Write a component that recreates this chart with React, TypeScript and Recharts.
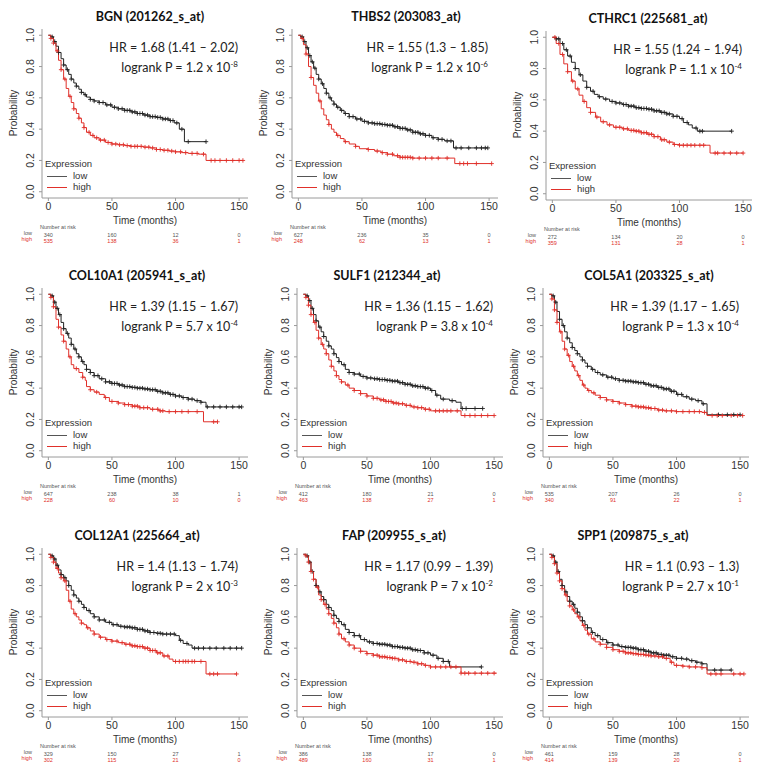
import { ComposedChart, Line, Scatter, XAxis, YAxis } from 'recharts'

type Pt = [number, number]

// ---- BGN ----
const bgnLow: Pt[] = [[0,1],[2,0.99],[4,0.96],[6,0.93],[8,0.89],[10,0.85],[12,0.81],[14,0.78],[16,0.75],[18,0.72],[20,0.695],[22,0.675],[24,0.655],[26,0.635],[28,0.62],[30,0.605],[33,0.59],[36,0.58],[40,0.57],[45,0.555],[50,0.54],[55,0.53],[60,0.52],[65,0.51],[70,0.5],[75,0.49],[80,0.48],[85,0.475],[90,0.465],[95,0.455],[99,0.44],[103,0.4],[107,0.32],[124,0.32]]
const bgnHigh: Pt[] = [[0,1],[2,0.98],[4,0.95],[6,0.9],[8,0.84],[10,0.78],[12,0.72],[14,0.66],[16,0.61],[18,0.57],[20,0.53],[22,0.5],[24,0.47],[26,0.44],[28,0.41],[30,0.38],[33,0.36],[36,0.345],[40,0.33],[45,0.315],[50,0.305],[55,0.3],[60,0.295],[65,0.29],[70,0.29],[75,0.285],[80,0.28],[85,0.27],[90,0.265],[95,0.26],[100,0.255],[105,0.25],[110,0.245],[118,0.24],[124,0.2],[153,0.2]]
const bgnLowCens = [3,5,8,12,15,18,22,26,29,33,36,40,43,46,49,52,55,58,60,62,64,66,68,70,72,74,76,78,80,82,84,86,88,90,92,94,96,98,101,105,110,124]
const bgnHighCens = [2,4,7,10,13,17,20,24,28,32,35,38,41,44,47,50,53,56,59,62,65,68,70,73,76,79,82,85,88,91,94,97,100,104,108,113,117,122,128,131,135,140,145,150,153]

// ---- THBS2 ----
const thbs2Low: Pt[] = [[0,1],[2,0.99],[4,0.96],[6,0.92],[8,0.87],[10,0.83],[12,0.79],[14,0.75],[16,0.72],[18,0.69],[20,0.66],[22,0.63],[24,0.6],[26,0.58],[28,0.56],[30,0.54],[33,0.52],[36,0.5],[40,0.48],[45,0.465],[50,0.45],[55,0.44],[60,0.435],[65,0.43],[70,0.425],[75,0.415],[80,0.405],[85,0.395],[90,0.38],[95,0.37],[100,0.36],[105,0.345],[110,0.335],[115,0.325],[122,0.28],[149,0.28]]
const thbs2High: Pt[] = [[0,1],[2,0.98],[4,0.94],[6,0.88],[8,0.8],[10,0.73],[12,0.68],[14,0.63],[16,0.58],[18,0.53],[20,0.49],[22,0.46],[24,0.43],[26,0.4],[28,0.38],[30,0.36],[33,0.34],[36,0.32],[40,0.305],[45,0.29],[48,0.275],[55,0.27],[60,0.26],[65,0.25],[70,0.24],[75,0.23],[80,0.22],[90,0.215],[100,0.215],[110,0.215],[123,0.18],[152,0.18]]
const thbs2LowCens = [3,5,7,9,11,13,16,19,22,25,28,31,34,37,40,43,46,49,52,55,58,60,62,64,66,68,70,72,74,76,78,80,82,84,86,88,90,92,94,96,98,100,103,106,110,113,117,120,124,128,134,140,144,147,149]
const thbs2HighCens = [3,6,10,17,24,31,37,45,55,62,66,70,74,78,80,82,84,86,88,90,95,100,105,110,117,127,130,133,140,152]

// ---- CTHRC1 ----
const cthrc1Low: Pt[] = [[0,1],[3,0.99],[6,0.96],[9,0.92],[12,0.88],[15,0.84],[18,0.8],[21,0.76],[24,0.72],[27,0.68],[30,0.655],[33,0.635],[36,0.62],[40,0.605],[45,0.59],[50,0.58],[55,0.57],[60,0.56],[65,0.55],[70,0.545],[75,0.54],[80,0.53],[85,0.52],[90,0.51],[95,0.495],[100,0.48],[103,0.455],[107,0.44],[110,0.42],[114,0.4],[141,0.4]]
const cthrc1High: Pt[] = [[0,1],[3,0.96],[6,0.89],[9,0.83],[12,0.78],[15,0.72],[18,0.67],[21,0.63],[24,0.59],[27,0.55],[30,0.52],[34,0.49],[38,0.46],[43,0.44],[48,0.425],[55,0.415],[60,0.405],[65,0.4],[70,0.39],[75,0.38],[80,0.365],[85,0.345],[90,0.33],[95,0.315],[100,0.31],[110,0.31],[124,0.26],[150,0.26]]
const cthrc1LowCens = [3,5,8,11,14,18,22,27,32,37,42,47,50,53,56,58,60,62,64,66,68,70,72,74,76,78,80,82,84,86,88,90,92,95,98,102,106,113,116,118,141]
const cthrc1HighCens = [2,5,8,12,16,20,25,30,35,40,45,50,53,56,59,62,64,66,68,70,72,74,76,78,80,83,86,88,92,96,100,103,106,109,112,116,119,128,130,135,140,145,150]

// ---- COL10A1 ----
const col10Low: Pt[] = [[0,1],[2,0.99],[4,0.95],[6,0.91],[8,0.87],[10,0.82],[12,0.78],[14,0.75],[16,0.72],[18,0.68],[20,0.65],[22,0.62],[24,0.6],[26,0.57],[28,0.55],[30,0.52],[33,0.5],[36,0.48],[40,0.46],[45,0.44],[50,0.43],[55,0.42],[60,0.41],[65,0.405],[70,0.4],[75,0.395],[80,0.39],[85,0.38],[90,0.37],[95,0.36],[100,0.35],[105,0.34],[110,0.33],[115,0.32],[120,0.31],[124,0.28],[152,0.28]]
const col10High: Pt[] = [[0,1],[2,0.98],[4,0.92],[6,0.84],[8,0.79],[10,0.74],[12,0.7],[14,0.65],[16,0.6],[18,0.55],[20,0.525],[24,0.5],[27,0.47],[29,0.45],[30,0.41],[33,0.39],[36,0.375],[40,0.36],[44,0.34],[48,0.315],[55,0.305],[60,0.295],[66,0.285],[72,0.275],[80,0.265],[87,0.255],[92,0.25],[122,0.185],[133,0.185]]
const col10LowCens = [3,5,7,9,12,15,18,21,24,27,30,33,36,39,42,45,48,50,52,54,56,58,60,62,64,66,68,70,72,74,76,78,80,82,84,86,88,90,92,94,96,98,100,103,106,110,113,117,120,125,130,135,140,145,150,152]
const col10HighCens = [2,4,8,12,17,22,27,33,38,45,50,55,60,63,66,68,70,72,75,78,82,86,88,90,95,100,105,110,117,130,133]

// ---- SULF1 ----
const sulf1Low: Pt[] = [[0,1],[2,0.99],[4,0.96],[6,0.91],[8,0.87],[10,0.83],[12,0.79],[14,0.76],[16,0.73],[18,0.7],[20,0.67],[22,0.65],[24,0.62],[26,0.595],[28,0.57],[30,0.55],[33,0.52],[36,0.5],[40,0.49],[45,0.475],[50,0.465],[55,0.46],[60,0.455],[65,0.45],[70,0.445],[75,0.435],[80,0.425],[85,0.415],[90,0.41],[95,0.4],[100,0.385],[104,0.355],[108,0.33],[115,0.32],[120,0.31],[124,0.27],[141,0.27]]
const sulf1High: Pt[] = [[0,1],[2,0.98],[4,0.93],[6,0.87],[8,0.82],[10,0.77],[12,0.72],[14,0.68],[16,0.65],[18,0.62],[20,0.58],[22,0.54],[24,0.51],[26,0.48],[28,0.455],[30,0.44],[33,0.42],[36,0.4],[40,0.385],[45,0.365],[50,0.35],[55,0.335],[60,0.325],[65,0.315],[70,0.305],[75,0.3],[80,0.29],[85,0.28],[90,0.275],[95,0.265],[100,0.255],[110,0.255],[124,0.225],[150,0.225]]
const sulf1LowCens = [3,5,7,10,13,16,20,24,28,32,36,40,44,47,50,53,56,58,60,62,64,66,68,70,72,74,76,78,80,82,84,86,88,90,92,94,96,98,101,105,110,117,125,128,135,141]
const sulf1HighCens = [2,4,6,9,12,15,18,22,26,30,35,40,45,50,55,58,61,63,65,67,69,71,73,75,78,81,84,87,90,93,96,99,104,107,110,113,116,121,127,131,135,140,145,150]

// ---- COL5A1 ----
const col5Low: Pt[] = [[0,1],[2,0.99],[4,0.95],[6,0.89],[8,0.84],[10,0.8],[12,0.76],[14,0.72],[16,0.69],[18,0.66],[20,0.64],[22,0.62],[24,0.6],[26,0.58],[28,0.56],[30,0.54],[33,0.52],[36,0.5],[40,0.485],[45,0.47],[50,0.46],[55,0.45],[60,0.445],[65,0.44],[70,0.435],[75,0.425],[80,0.415],[85,0.405],[90,0.395],[95,0.38],[100,0.36],[105,0.345],[110,0.33],[115,0.32],[120,0.3],[124,0.23],[150,0.23]]
const col5High: Pt[] = [[0,1],[2,0.97],[4,0.9],[6,0.82],[8,0.76],[10,0.7],[12,0.65],[14,0.61],[16,0.57],[18,0.54],[20,0.51],[22,0.48],[24,0.45],[26,0.42],[28,0.4],[30,0.385],[33,0.37],[36,0.355],[40,0.34],[45,0.325],[50,0.315],[55,0.305],[60,0.295],[65,0.285],[70,0.28],[75,0.275],[80,0.27],[85,0.26],[90,0.255],[100,0.25],[110,0.25],[120,0.245],[124,0.225],[152,0.225]]
const col5LowCens = [3,5,8,11,14,18,22,26,30,34,38,42,46,49,52,55,58,60,62,64,66,68,70,72,74,76,78,80,82,84,86,88,90,92,94,96,98,101,104,108,112,117,121,133,140,145,150]
const col5HighCens = [2,4,6,9,12,15,19,23,27,31,35,40,45,50,55,60,65,68,70,72,74,76,78,80,83,86,89,92,96,100,105,110,114,118,122,128,132,136,143,148,152]

// ---- COL12A1 ----
const col12Low: Pt[] = [[0,1],[2,0.99],[4,0.97],[6,0.93],[8,0.9],[10,0.87],[12,0.85],[14,0.83],[16,0.8],[18,0.77],[20,0.74],[22,0.72],[24,0.7],[26,0.68],[28,0.66],[30,0.64],[33,0.62],[36,0.6],[40,0.58],[45,0.565],[50,0.55],[55,0.54],[60,0.535],[65,0.53],[70,0.52],[75,0.51],[80,0.5],[85,0.495],[90,0.49],[95,0.49],[100,0.48],[103,0.45],[106,0.43],[110,0.42],[113,0.4],[152,0.4]]
const col12High: Pt[] = [[0,1],[2,0.98],[4,0.95],[6,0.91],[8,0.88],[10,0.85],[12,0.83],[14,0.77],[16,0.7],[18,0.65],[20,0.62],[22,0.6],[24,0.58],[26,0.56],[28,0.55],[30,0.53],[33,0.51],[36,0.49],[40,0.47],[45,0.455],[50,0.445],[55,0.435],[60,0.425],[65,0.415],[70,0.41],[75,0.4],[80,0.385],[85,0.37],[90,0.35],[95,0.33],[98,0.315],[110,0.315],[120,0.315],[124,0.235],[148,0.235]]
const col12LowCens = [3,5,7,10,13,16,20,24,28,32,36,40,44,48,51,54,57,60,62,64,66,68,70,72,74,76,78,80,83,86,88,90,93,96,99,104,109,115,118,122,127,132,138,143,148,152]
const col12HighCens = [2,4,7,10,13,17,21,26,31,36,41,46,50,54,58,61,64,66,68,70,72,74,76,78,80,82,84,86,88,91,94,100,103,106,108,110,113,115,120,127,130,133,148]

// ---- FAP ----
const fapLow: Pt[] = [[0,1],[2,0.99],[4,0.95],[6,0.89],[8,0.84],[10,0.8],[12,0.76],[14,0.73],[16,0.71],[18,0.68],[20,0.66],[22,0.64],[24,0.61],[26,0.59],[28,0.57],[30,0.55],[33,0.52],[36,0.5],[40,0.48],[45,0.455],[50,0.44],[55,0.43],[60,0.425],[65,0.42],[70,0.41],[75,0.405],[80,0.4],[85,0.39],[90,0.385],[95,0.37],[100,0.355],[105,0.335],[110,0.315],[115,0.28],[140,0.28]]
const fapHigh: Pt[] = [[0,1],[2,0.99],[4,0.95],[6,0.89],[8,0.84],[10,0.79],[12,0.74],[14,0.71],[16,0.68],[18,0.65],[20,0.62],[22,0.59],[24,0.56],[26,0.53],[28,0.49],[30,0.46],[33,0.44],[36,0.42],[40,0.4],[45,0.38],[50,0.365],[55,0.355],[60,0.345],[65,0.34],[70,0.335],[75,0.325],[80,0.315],[85,0.31],[90,0.3],[95,0.29],[100,0.28],[110,0.28],[120,0.28],[124,0.24],[152,0.24]]
const fapLowCens = [3,5,7,10,13,16,20,24,28,32,36,40,44,48,52,55,58,60,62,64,66,68,70,72,74,76,78,80,82,84,86,88,90,92,95,98,102,106,110,114,140]
const fapHighCens = [2,4,6,8,11,14,17,20,24,28,32,36,40,45,50,55,58,60,62,64,66,68,70,72,75,78,81,84,87,90,93,96,100,104,108,112,116,120,124,127,130,135,140,145,150]

// ---- SPP1 ----
const spp1Low: Pt[] = [[0,1],[2,0.99],[4,0.95],[6,0.89],[8,0.84],[10,0.8],[12,0.76],[14,0.73],[16,0.7],[18,0.68],[20,0.655],[22,0.63],[24,0.6],[26,0.575],[28,0.55],[30,0.53],[33,0.5],[36,0.48],[40,0.455],[45,0.435],[50,0.42],[55,0.41],[60,0.405],[65,0.4],[70,0.39],[75,0.38],[80,0.37],[85,0.36],[90,0.355],[95,0.345],[100,0.335],[105,0.33],[110,0.32],[115,0.31],[120,0.3],[124,0.26],[143,0.26]]
const spp1High: Pt[] = [[0,1],[2,0.98],[4,0.94],[6,0.88],[8,0.83],[10,0.78],[12,0.74],[14,0.7],[16,0.67],[18,0.645],[20,0.62],[22,0.6],[24,0.575],[26,0.545],[28,0.515],[30,0.49],[33,0.46],[36,0.44],[40,0.425],[45,0.405],[50,0.39],[55,0.38],[60,0.37],[65,0.365],[70,0.36],[75,0.355],[80,0.35],[85,0.345],[90,0.335],[95,0.31],[98,0.29],[105,0.285],[110,0.28],[120,0.275],[124,0.235],[153,0.235]]
const spp1LowCens = [3,5,7,10,13,16,19,22,26,30,34,38,42,46,50,54,57,60,62,64,66,68,70,72,74,76,78,80,82,84,86,88,90,92,94,97,100,104,108,112,116,120,130,135,143]
const spp1HighCens = [2,4,6,8,10,13,16,19,23,27,31,35,40,45,50,55,58,60,62,64,66,68,70,72,74,76,78,80,83,86,89,92,96,100,105,110,115,120,127,131,135,145,150,153]

// ---- labels ----
const titles = ['BGN (201262_s_at)', 'THBS2 (203083_at)', 'CTHRC1 (225681_at)', 'COL10A1 (205941_s_at)', 'SULF1 (212344_at)', 'COL5A1 (203325_s_at)', 'COL12A1 (225664_at)', 'FAP (209955_s_at)', 'SPP1 (209875_s_at)']
const hrTexts = ['HR = 1.68 (1.41 – 2.02)', 'HR = 1.55 (1.3 – 1.85)', 'HR = 1.55 (1.24 – 1.94)', 'HR = 1.39 (1.15 – 1.67)', 'HR = 1.36 (1.15 – 1.62)', 'HR = 1.39 (1.17 – 1.65)', 'HR = 1.4 (1.13 – 1.74)', 'HR = 1.17 (0.99 – 1.39)', 'HR = 1.1 (0.93 – 1.3)']
const pMantissa = ['1.2', '1.2', '1.1', '5.7', '3.8', '1.3', '2', '7', '2.7']
const pExponent = ['-8', '-6', '-4', '-4', '-4', '-4', '-3', '-2', '-1']
const riskLow = [[340,160,12,0],[627,236,35,0],[272,134,20,0],[647,238,38,1],[412,180,21,0],[535,207,26,0],[329,150,27,1],[386,138,17,0],[461,159,28,0]]
const riskHigh = [[535,138,36,1],[248,62,13,1],[359,131,28,1],[228,60,10,0],[463,138,27,1],[340,91,22,1],[302,115,21,0],[489,160,31,1],[414,139,20,1]]
const timeTicks = [0, 50, 100, 150]
const probTicks = [0, 0.2, 0.4, 0.6, 0.8, 1]

const curvesLow = [bgnLow, thbs2Low, cthrc1Low, col10Low, sulf1Low, col5Low, col12Low, fapLow, spp1Low]
const curvesHigh = [bgnHigh, thbs2High, cthrc1High, col10High, sulf1High, col5High, col12High, fapHigh, spp1High]
const censLow = [bgnLowCens, thbs2LowCens, cthrc1LowCens, col10LowCens, sulf1LowCens, col5LowCens, col12LowCens, fapLowCens, spp1LowCens]
const censHigh = [bgnHighCens, thbs2HighCens, cthrc1HighCens, col10HighCens, sulf1HighCens, col5HighCens, col12HighCens, fapHighCens, spp1HighCens]

// plot box top-left for each panel, plus title nudge
const boxes = [
  { left: 42, top: 29, titleDx: 5 }, { left: 292, top: 29, titleDx: 11 }, { left: 546, top: 31, titleDx: -1 },
  { left: 42, top: 288, titleDx: -8 }, { left: 297, top: 288, titleDx: -13 }, { left: 543, top: 288, titleDx: 3 },
  { left: 42, top: 548, titleDx: -8 }, { left: 297, top: 548, titleDx: -6 }, { left: 543, top: 548, titleDx: -13 },
]

const RED = '#e0302a'
const BLACK = '#222'
const BOX = '#9a9a9a'
const TXT = '#333'
const ARIAL = '"Liberation Sans", Arial, sans-serif'
const CALIBRI = 'Lato, "Open Sans", sans-serif'

const stepAt = (curve: Pt[], t: number) => {
  let s = curve[0][1]
  for (const [ct, cs] of curve) {
    if (ct <= t) s = cs
    else break
  }
  return s
}

const Plus = (props: any) => {
  const { cx, cy, fill } = props
  if (cx == null || cy == null) return null
  return <path d={`M${cx - 2.2},${cy}h4.4M${cx},${cy - 2.2}v4.4`} stroke={fill} strokeWidth={0.9} fill="none" />
}

const XTick = (props: any) => {
  const { x, y, payload } = props
  return (
    <text x={x} y={y} dy="0.71em" textAnchor="middle" fontSize={10.5} fill={TXT} fontFamily={ARIAL}>
      {payload.value}
    </text>
  )
}

const YTick = (props: any) => {
  const { x, y, payload } = props
  return (
    <text transform={`translate(${x - 3},${y}) rotate(-90)`} textAnchor="middle" fontSize={10.5} fill={TXT} fontFamily={ARIAL}>
      {Number(payload.value).toFixed(1)}
    </text>
  )
}

const makeRiskTick = (values: number[], color: string) => (props: any) => {
  const { x, y, payload } = props
  const i = timeTicks.indexOf(payload.value)
  return (
    <text x={x} y={y + 3} dominantBaseline="central" textAnchor="middle" fontSize={5.5} fill={color} fontFamily={ARIAL}>
      {values[i]}
    </text>
  )
}

const X_DOMAIN: [number, number] = [-5, 157]
const Y_DOMAIN: [number, number] = [-0.04, 1.04]

function KMPanel({ idx }: { idx: number }) {
  const box = boxes[idx]
  const low = curvesLow[idx].map(([t, s]) => ({ t, s }))
  const high = curvesHigh[idx].map(([t, s]) => ({ t, s }))
  const lowC = censLow[idx].map((t) => ({ t, s: stepAt(curvesLow[idx], t) }))
  const highC = censHigh[idx].map((t) => ({ t, s: stepAt(curvesHigh[idx], t) }))
  const abs = { position: 'absolute' as const, whiteSpace: 'nowrap' as const, lineHeight: 1 }

  return (
    <div style={{ position: 'absolute', left: box.left - 42, top: box.top - 29, width: 250, height: 250 }}>
      <ComposedChart width={250} height={250} margin={{ top: 29, right: 2, left: 0, bottom: 4 }}>
        <XAxis xAxisId="top" orientation="top" type="number" dataKey="t" domain={X_DOMAIN} allowDataOverflow height={0} tick={false} tickLine={false} stroke={BOX} />
        <YAxis yAxisId="r" orientation="right" type="number" dataKey="s" domain={Y_DOMAIN} allowDataOverflow width={0} tick={false} tickLine={false} stroke={BOX} />
        <XAxis type="number" dataKey="t" domain={X_DOMAIN} allowDataOverflow ticks={timeTicks} interval={0} height={34} tickSize={3} tickMargin={2} tick={<XTick />} stroke={BOX} />
        <XAxis xAxisId="r1" type="number" dataKey="t" domain={X_DOMAIN} allowDataOverflow ticks={timeTicks} interval={0} height={6} tickSize={0} tickMargin={0} axisLine={false} tickLine={false} tick={makeRiskTick(riskLow[idx], '#555')} />
        <XAxis xAxisId="r2" type="number" dataKey="t" domain={X_DOMAIN} allowDataOverflow ticks={timeTicks} interval={0} height={8} tickSize={0} tickMargin={0} axisLine={false} tickLine={false} tick={makeRiskTick(riskHigh[idx], RED)} />
        <YAxis type="number" dataKey="s" domain={Y_DOMAIN} allowDataOverflow ticks={probTicks} interval={0} width={42} tickSize={3} tickMargin={2} tick={<YTick />} stroke={BOX} />
        <Line data={low} dataKey="s" type="stepAfter" stroke={BLACK} strokeWidth={1} dot={false} isAnimationActive={false} />
        <Line data={high} dataKey="s" type="stepAfter" stroke={RED} strokeWidth={1} dot={false} isAnimationActive={false} />
        <Scatter data={lowC} dataKey="s" fill={BLACK} shape={<Plus />} isAnimationActive={false} />
        <Scatter data={highC} dataKey="s" fill={RED} shape={<Plus />} isAnimationActive={false} />
      </ComposedChart>

      <div style={{ ...abs, left: 145 + box.titleDx, top: 17, transform: 'translate(-50%,-50%)', fontFamily: CALIBRI, fontWeight: 700, fontSize: 12.5, color: '#111' }}>
        {titles[idx]}
      </div>
      <div style={{ ...abs, right: 12, top: 48, transform: 'translateY(-50%)', fontFamily: CALIBRI, fontSize: 12.5, color: '#222' }}>
        {hrTexts[idx]}
      </div>
      <div style={{ ...abs, right: 12, top: 67, transform: 'translateY(-50%)', fontFamily: CALIBRI, fontSize: 12.5, color: '#222' }}>
        logrank P = {pMantissa[idx]} x 10<sup style={{ fontSize: 8, verticalAlign: 5 }}>{pExponent[idx]}</sup>
      </div>

      <div style={{ ...abs, left: 45, top: 164, transform: 'translateY(-50%)', fontFamily: ARIAL, fontSize: 9.5, color: TXT }}>Expression</div>
      <div style={{ position: 'absolute', left: 47, top: 176, width: 20, height: 1, background: '#555' }} />
      <div style={{ ...abs, left: 73, top: 176, transform: 'translateY(-50%)', fontFamily: ARIAL, fontSize: 9.5, color: TXT }}>low</div>
      <div style={{ position: 'absolute', left: 47, top: 187, width: 20, height: 1, background: RED }} />
      <div style={{ ...abs, left: 73, top: 187, transform: 'translateY(-50%)', fontFamily: ARIAL, fontSize: 9.5, color: TXT }}>high</div>

      <div style={{ ...abs, left: 14, top: 113, transform: 'translate(-50%,-50%) rotate(-90deg)', fontFamily: ARIAL, fontSize: 10, color: TXT }}>Probability</div>
      <div style={{ ...abs, left: 145, top: 221, transform: 'translate(-50%,-50%)', fontFamily: ARIAL, fontSize: 10, color: TXT }}>Time (months)</div>

      <div style={{ ...abs, left: 40, top: 228, transform: 'translateY(-50%)', fontFamily: ARIAL, fontSize: 5.5, color: '#555' }}>Number at risk</div>
      <div style={{ ...abs, right: 218, top: 234, transform: 'translateY(-50%)', fontFamily: ARIAL, fontSize: 5.5, color: '#555' }}>low</div>
      <div style={{ ...abs, right: 218, top: 240, transform: 'translateY(-50%)', fontFamily: ARIAL, fontSize: 5.5, color: RED }}>high</div>
    </div>
  )
}

export default function App() {
  return (
    <div style={{ position: 'absolute', left: 0, top: 0, width: 760, height: 773, background: '#fff', overflow: 'hidden' }}>
      {titles.map((_, i) => (
        <KMPanel key={i} idx={i} />
      ))}
    </div>
  )
}
